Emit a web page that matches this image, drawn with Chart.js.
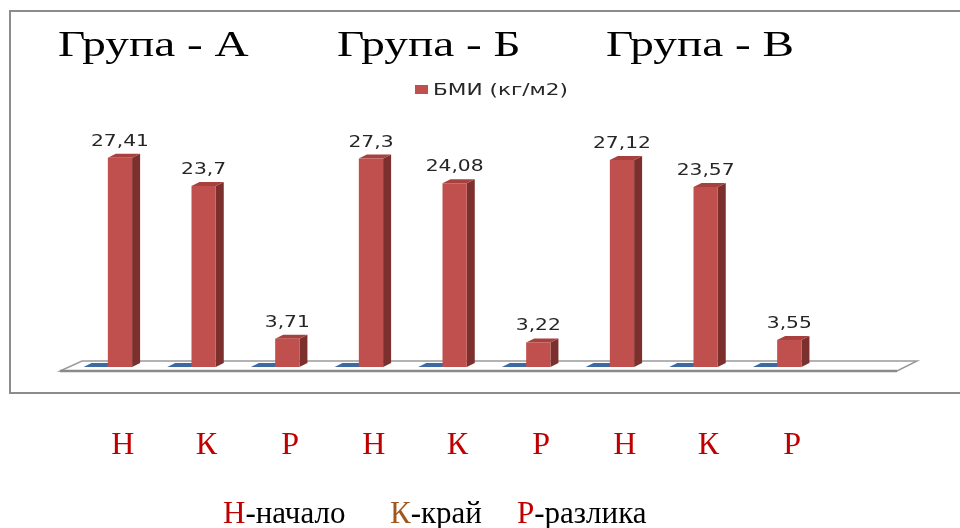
<!DOCTYPE html>
<html>
<head>
<meta charset="utf-8">
<script src="https://cdn.jsdelivr.net/npm/chart.js@4/dist/chart.umd.min.js"></script>
<style>
  html, body { margin: 0; padding: 0; background: #fff; }
  #wrap { position: relative; width: 960px; height: 528px; overflow: hidden; }
  #bmiChart { position: absolute; left: 0; top: 0; }
  .note { position: absolute; top: 497px; font: 31px 'Liberation Serif', 'Times New Roman', serif; line-height: 31px; color: #000; white-space: nowrap; }
  .note b { font-weight: normal; }
</style>
</head>
<body>
<div id="wrap">
  <canvas id="bmiChart" width="960" height="528"></canvas>
  <div class="note" style="left:223px"><b style="color:#c00000">Н</b>-начало</div>
  <div class="note" style="left:390px"><b style="color:#a0561c">К</b>-край</div>
  <div class="note" style="left:517px"><b style="color:#c00000">Р</b>-разлика</div>
</div>
<script>
// categories: Н = начало, К = край, Р = разлика, for groups А, Б, В
let categories = ["Н", "К", "Р", "Н", "К", "Р", "Н", "К", "Р"];
let baseSeries = [0, 0, 0, 0, 0, 0, 0, 0, 0];
let bmiValues = [27.41, 23.7, 3.71, 27.3, 24.08, 3.22, 27.12, 23.57, 3.55];
let groupTitles = ["Група - А", "Група - Б", "Група - В"];
let seriesLabel = "БМИ (кг/м2)";

const stretch = 1.35;   // the chart text is drawn wide
const depth = { dx: 8, dy: -4 };

function wideText(ctx, text, x, y, font, color, align) {
  ctx.save();
  ctx.font = font;
  ctx.fillStyle = color;
  ctx.textAlign = align;
  ctx.textBaseline = "alphabetic";
  ctx.translate(x, y);
  ctx.scale(stretch, 1);
  ctx.fillText(text, 0, 0);
  ctx.restore();
}

function poly(ctx, pts, fill) {
  ctx.beginPath();
  ctx.moveTo(pts[0][0], pts[0][1]);
  for (let i = 1; i < pts.length; i++) ctx.lineTo(pts[i][0], pts[i][1]);
  ctx.closePath();
  ctx.fillStyle = fill;
  ctx.fill();
}

const shades = [
  { side: "#2f5685", top: "#3d6aa3" },
  { side: "#7c302e", top: "#a8413e" }
];

const bars3d = {
  id: "bars3d",
  beforeDraw(chart) {
    let ctx = chart.ctx;
    // frame around the chart
    ctx.save();
    ctx.strokeStyle = "#8c8c8c";
    ctx.lineWidth = 2;
    ctx.beginPath();
    ctx.moveTo(962, 11);
    ctx.lineTo(10, 11);
    ctx.lineTo(10, 393);
    ctx.lineTo(962, 393);
    ctx.stroke();
    ctx.restore();
  },
  beforeDatasetsDraw(chart) {
    let ctx = chart.ctx;
    let a = chart.chartArea;
    let yb = a.bottom + 4;
    // floor
    ctx.save();
    ctx.beginPath();
    ctx.moveTo(a.left - 6, yb);
    ctx.lineTo(a.right + 78, yb);
    ctx.lineTo(a.right + 98, yb - 10);
    ctx.lineTo(a.left + 16, yb - 10);
    ctx.closePath();
    ctx.fillStyle = "#fff";
    ctx.fill();
    ctx.strokeStyle = "#9a9a9a";
    ctx.lineWidth = 1.5;
    ctx.stroke();
    ctx.beginPath();
    ctx.moveTo(a.left - 6, yb);
    ctx.lineTo(a.right + 78, yb);
    ctx.lineWidth = 2.5;
    ctx.strokeStyle = "#8a8a8a";
    ctx.stroke();

    // side and top faces of the bars
    chart.data.datasets.forEach(function (ds, di) {
      chart.getDatasetMeta(di).data.forEach(function (bar) {
        let p = bar.getProps(["x", "y", "base", "width"], true);
        let l = p.x - p.width / 2, r = p.x + p.width / 2;
        if (p.base - p.y > 0.5) {
          poly(ctx, [[r, p.y], [r + depth.dx, p.y + depth.dy], [r + depth.dx, p.base + depth.dy], [r, p.base]], shades[di].side);
        }
        poly(ctx, [[l, p.y], [r, p.y], [r + depth.dx, p.y + depth.dy], [l + depth.dx, p.y + depth.dy]], shades[di].top);
      });
    });
    ctx.restore();
  },
  afterDatasetsDraw(chart) {
    let ctx = chart.ctx;
    chart.getDatasetMeta(1).data.forEach(function (bar, i) {
      let txt = String(bmiValues[i]).replace(".", ",");
      wideText(ctx, txt, bar.x, bar.y - 12, "15px 'DejaVu Sans'", "#262626", "center");
    });
  },
  afterDraw(chart) {
    let ctx = chart.ctx;
    let titleX = [58, 337, 606];
    groupTitles.forEach(function (t, i) {
      wideText(ctx, t, titleX[i], 56, "35px 'Liberation Serif'", "#000", "left");
    });
    // legend
    ctx.fillStyle = chart.data.datasets[1].backgroundColor;
    ctx.fillRect(415, 85, 13, 9);
    wideText(ctx, chart.data.datasets[1].label, 433, 95, "16px 'DejaVu Sans'", "#262626", "left");
  }
};

let bmiChart = new Chart(document.getElementById("bmiChart"), {
  type: "bar",
  data: {
    labels: categories,
    datasets: [
      {
        label: "",
        backgroundColor: "#4f81bd",
        data: baseSeries
      },
      {
        label: seriesLabel,
        backgroundColor: "#c0504d",
        data: bmiValues
      }
    ]
  },
  options: {
    responsive: false,
    animation: false,
    events: [],
    layout: { padding: { left: 66, right: 141, top: 138, bottom: 60 } },
    categoryPercentage: 0.58,
    barPercentage: 1.0,
    plugins: {
      legend: { display: false },
      tooltip: { enabled: false }
    },
    scales: {
      x: {
        grid: { display: false },
        border: { display: false },
        ticks: {
          color: "#c00000",
          font: { family: "'Liberation Serif'", size: 32 },
          labelOffset: 15,
          padding: 51,
          maxRotation: 0,
          autoSkip: false
        },
        afterFit: function (scale) { scale.height = 101; }
      },
      y: {
        display: false,
        min: 0,
        max: 30
      }
    }
  },
  plugins: [bars3d]
});
</script>
</body>
</html>
